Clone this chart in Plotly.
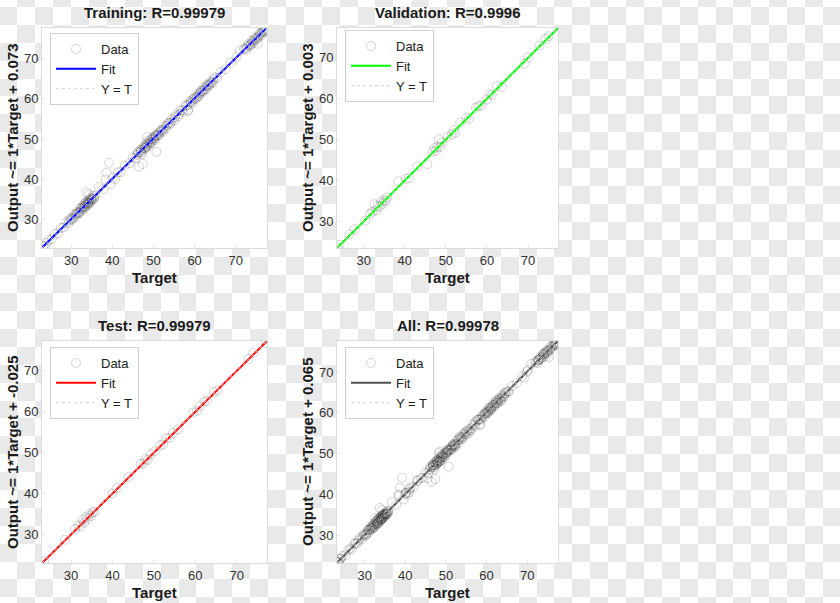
import plotly.graph_objects as go

# ---------------- data ----------------
train_target = [
    23.2, 23.6, 24.0, 24.5, 25.3, 26.0, 26.8, 27.5, 28.2, 28.8,
    29.3, 29.8, 30.2, 30.7, 31.1, 31.5, 31.9, 32.2, 32.5, 32.8,
    33.0, 33.2, 33.4, 33.6, 33.8, 34.0, 34.2, 34.4, 34.6, 34.8,
    35.0, 35.3, 35.6, 33.7, 34.3, 36.7, 37.8, 38.4, 38.6, 39.2,
    39.6, 40.1, 40.7, 41.3, 42.0, 43.0, 44.2, 45.0, 45.6, 46.2,
    46.5, 46.8, 47.1, 47.4, 47.7, 48.0, 48.2, 48.5, 48.8, 49.0,
    49.3, 49.6, 49.9, 50.2, 50.5, 50.7, 51.0, 51.4, 51.8, 52.2,
    52.6, 53.0, 53.5, 54.0, 54.5, 55.0, 55.5, 56.0, 56.6, 57.2,
    57.8, 58.4, 58.9, 59.4, 59.9, 60.3, 60.7, 61.1, 61.5, 61.9,
    62.3, 62.7, 63.1, 63.5, 63.9, 64.4, 64.9, 65.5, 66.3, 67.5,
    68.8, 70.2, 71.0, 72.0, 72.6, 73.1, 73.5, 73.9, 74.3, 74.7,
    75.1, 75.4, 75.8, 76.2, 76.6, 77.0, 77.3, 48.5, 47.2, 58.4,
    30.0, 31.0, 32.0, 33.1, 34.1, 34.5, 35.1, 35.8, 32.4, 33.9,
    46.0, 47.0, 47.9, 48.4, 49.2, 50.0, 50.9, 52.0, 53.2,
    59.1, 60.0, 60.9, 61.7, 62.5, 63.3, 64.1,
    72.3, 73.3, 74.1, 75.0, 75.6, 76.4, 77.1,
    29.5, 30.5, 31.3, 31.7, 32.7, 33.3, 33.5, 34.3, 34.9, 35.4,
    46.4, 46.9, 47.6, 48.1, 48.7, 49.4, 49.8, 50.3, 50.6, 51.2,
    51.6, 52.4, 53.7, 54.2, 55.2, 56.3, 57.0,
    58.2, 58.7, 59.6, 60.5, 61.3, 62.0, 62.9, 63.7, 64.6,
    72.8, 73.7, 74.5, 75.3, 76.0, 76.8,
]
train_output = [
    23.4, 23.3, 24.2, 24.9, 25.1, 26.4, 26.5, 27.9, 28.0, 29.3,
    29.0, 30.3, 29.9, 31.2, 30.7, 31.9, 31.5, 32.8, 32.1, 33.4,
    32.6, 33.9, 33.0, 34.3, 33.5, 34.6, 33.8, 35.0, 34.2, 35.3,
    34.7, 35.8, 35.2, 36.7, 36.2, 38.1, 37.5, 39.9, 41.6, 44.1,
    38.8, 40.4, 40.0, 41.7, 41.8, 43.4, 44.0, 45.4, 45.2, 46.8,
    43.1, 47.3, 46.6, 43.8, 48.3, 47.6, 48.9, 48.1, 49.5, 48.5,
    49.9, 49.1, 50.5, 49.7, 51.0, 46.8, 51.4, 50.9, 52.3, 51.8,
    53.1, 52.6, 54.0, 53.6, 55.0, 54.6, 56.0, 55.6, 57.1, 56.8,
    58.3, 57.2, 59.4, 59.0, 60.4, 59.9, 61.2, 60.7, 62.0, 61.5,
    62.8, 62.3, 63.6, 63.1, 64.3, 64.0, 65.3, 65.2, 66.6, 67.3,
    69.0, 70.5, 72.0, 72.4, 72.2, 73.6, 73.1, 74.4, 73.9, 75.2,
    74.6, 73.7, 76.2, 75.8, 77.0, 76.6, 77.3, 50.5, 46.2, 57.0,
    30.1, 31.2, 31.8, 33.2, 34.0, 34.7, 35.0, 35.9, 32.6, 34.1,
    46.1, 47.2, 47.8, 48.6, 49.1, 50.2, 50.8, 52.1, 53.3,
    59.2, 60.1, 60.8, 61.9, 62.4, 63.4, 64.0,
    72.5, 73.3, 74.2, 75.0, 75.5, 76.5, 77.0,
    29.7, 30.4, 31.5, 31.6, 32.9, 33.2, 33.7, 34.2, 35.1, 35.3,
    46.6, 46.8, 47.8, 48.0, 48.9, 49.3, 50.0, 50.2, 50.8, 51.1,
    51.8, 52.3, 53.9, 54.1, 55.4, 56.2, 57.2,
    58.4, 58.6, 59.8, 60.4, 61.5, 61.9, 63.1, 63.6, 64.8,
    73.0, 73.6, 74.7, 75.2, 76.2, 76.7,
]

val_target = [
    23.6, 24.1, 26.5, 27.8, 30.4, 31.6, 32.1, 32.6, 33.0, 33.4,
    33.9, 34.2, 34.6, 35.0, 35.4, 35.7, 38.4, 40.2, 41.0, 43.0,
    45.5, 46.8, 47.2, 47.6, 47.9, 48.3, 48.6, 49.0, 50.4, 51.4,
    51.9, 52.3, 53.5, 55.0, 55.6, 57.3, 58.0, 58.6, 60.0, 60.6,
    61.2, 62.4, 63.6, 69.2, 70.0, 72.8, 74.3, 75.0,
]
val_output = [
    23.5, 24.3, 26.8, 28.1, 30.2, 31.9, 32.4, 34.2, 32.7, 33.8,
    33.6, 34.8, 34.3, 35.2, 35.0, 35.9, 39.8, 40.4, 40.6, 43.4,
    44.0, 47.1, 47.9, 47.3, 48.3, 50.1, 48.2, 49.3, 50.7, 51.2,
    52.3, 51.7, 54.2, 55.4, 55.0, 57.8, 58.3, 58.3, 59.8, 61.1,
    60.9, 63.1, 62.9, 68.6, 70.1, 73.0, 74.6, 75.3,
]

test_target = [
    23.5, 28.5, 31.0, 31.8, 32.3, 32.8, 33.2, 33.6, 34.0, 34.4,
    34.8, 35.2, 35.7, 40.0, 41.0, 43.8, 46.8, 47.5, 48.0, 48.5,
    49.2, 50.2, 51.5, 52.2, 53.0, 53.8, 54.6, 55.8, 59.5, 60.4,
    61.0, 62.2, 62.8, 64.5, 65.3, 72.8, 74.0, 77.0,
]
test_output = [
    23.4, 28.7, 31.3, 32.2, 31.9, 33.5, 32.9, 34.2, 33.8, 34.9,
    34.5, 35.4, 35.5, 40.0, 41.3, 44.0, 47.2, 47.3, 48.4, 48.2,
    49.6, 50.3, 51.8, 52.0, 53.5, 53.6, 54.8, 55.7, 59.8, 60.2,
    61.3, 62.5, 62.6, 64.8, 65.2, 72.9, 74.4, 76.8,
]

panel_titles = ["Training: R=0.99979", "Validation: R=0.9996", "Test: R=0.99979", "All: R=0.99978"]
fit_slope = [1, 1, 1, 1]
fit_intercept = [0.073, 0.003, -0.025, 0.065]
ylabels = ["Output ~= 1*Target + 0.073", "Output ~= 1*Target + 0.003",
           "Output ~= 1*Target + -0.025", "Output ~= 1*Target + 0.065"]
fit_colors = ["#0000ff", "#00ff00", "#ff0000", "#505050"]
axis_ranges = [[22.9, 77.6], [23.5, 77.3], [23.0, 77.3], [23.2, 77.6]]
tick_vals = [30, 40, 50, 60, 70]

all_target = train_target + val_target + test_target
all_output = train_output + val_output + test_output
panel_data = [(train_target, train_output), (val_target, val_output),
              (test_target, test_output), (all_target, all_output)]

# ---------------- layout geometry (pixels) ----------------
W, H = 840, 603
col_x = [(42, 267), (337, 558)]
row_y = [(28, 248), (341, 563)]
panel_pos = [(0, 0), (1, 0), (0, 1), (1, 1)]
legend_top = [33, 30, 347, 347]

fig = go.Figure()

# checkered "transparent" background
cell = 17.9
ncols, nrows = 49, 36
z = [[(i + j) % 2 for i in range(ncols)] for j in range(nrows)]
fig.add_trace(go.Heatmap(z=z, x0=17.5 - cell / 2, dx=cell, y0=7 - cell / 2, dy=cell,
                         colorscale=[[0, "#ffffff"], [1, "#e9e9e9"]], zmin=0, zmax=1,
                         showscale=False, hoverinfo="skip", xaxis="x", yaxis="y"))

layout = dict(
    width=W, height=H, margin=dict(l=0, r=0, t=0, b=0),
    paper_bgcolor="#ffffff", plot_bgcolor="#ffffff",
    xaxis=dict(domain=[0, 1], range=[0, W], visible=False, fixedrange=True),
    yaxis=dict(domain=[0, 1], range=[H, 0], visible=False, fixedrange=True),
    font=dict(family="Liberation Sans, Arial, sans-serif", color="#262626"),
    annotations=[],
)

for k in range(4):
    ci, ri = panel_pos[k]
    x0p, x1p = col_x[ci]
    y0p, y1p = row_y[ri]
    xa = "x%d" % (k + 2)
    ya = "y%d" % (k + 2)
    leg = "legend%d" % (k + 2)
    rng = axis_ranges[k]
    tgt, out = panel_data[k]

    fig.add_trace(go.Scatter(
        x=tgt, y=out, mode="markers", name="Data", legend=leg,
        marker=dict(symbol="circle-open", size=9, color="rgba(0,0,0,0.17)",
                    line=dict(width=1)),
        xaxis=xa, yaxis=ya, hoverinfo="skip"))
    fx = [rng[0], rng[1]]
    fy = [fit_slope[k] * v + fit_intercept[k] for v in fx]
    fig.add_trace(go.Scatter(
        x=fx, y=fy, mode="lines", name="Fit", legend=leg,
        line=dict(color=fit_colors[k], width=2), xaxis=xa, yaxis=ya))
    fig.add_trace(go.Scatter(
        x=fx, y=fx, mode="lines", name="Y = T", legend=leg,
        line=dict(color="#cfcfcf", width=1, dash="dot"), xaxis=xa, yaxis=ya))

    axcommon = dict(range=rng, tickvals=tick_vals, showgrid=False, zeroline=False,
                    showline=True, mirror=True, linecolor="#dcdcdc", linewidth=1,
                    ticks="inside", ticklen=3, tickcolor="#e4e4e4",
                    tickfont=dict(size=13, color="#303030"), fixedrange=True)
    layout["xaxis%d" % (k + 2)] = dict(axcommon, domain=[x0p / W, x1p / W], anchor=ya)
    layout["yaxis%d" % (k + 2)] = dict(axcommon, domain=[1 - y1p / H, 1 - y0p / H], anchor=xa)

    layout[leg] = dict(
        x=(x0p + 8) / W, y=1 - legend_top[k] / H, xanchor="left", yanchor="top",
        bgcolor="#ffffff", bordercolor="#d0d0d0", borderwidth=1,
        font=dict(size=13, color="#202020"), tracegroupgap=0,
        itemwidth=40)

    cx = (x0p + x1p) / 2
    layout["annotations"].append(dict(
        text="<b>%s</b>" % panel_titles[k], x=cx / W, y=1 - (y0p - 16) / H,
        xref="paper", yref="paper", showarrow=False, xanchor="center", yanchor="middle",
        font=dict(size=15, color="#1a1a1a")))
    layout["annotations"].append(dict(
        text="<b>Target</b>", x=cx / W, y=1 - (y1p + 29) / H,
        xref="paper", yref="paper", showarrow=False, xanchor="center", yanchor="middle",
        font=dict(size=15, color="#1a1a1a")))
    layout["annotations"].append(dict(
        text="<b>%s</b>" % ylabels[k], x=(x0p - 30) / W, y=1 - ((y0p + y1p) / 2) / H,
        xref="paper", yref="paper", showarrow=False, xanchor="center", yanchor="middle",
        textangle=-90, font=dict(size=15, color="#1a1a1a")))

fig.update_layout(**layout)
fig.update_layout(showlegend=True)
fig.write_html("out.html", config={"displayModeBar": False},
               post_script="document.body.style.margin='0';document.body.style.overflow='hidden';")
